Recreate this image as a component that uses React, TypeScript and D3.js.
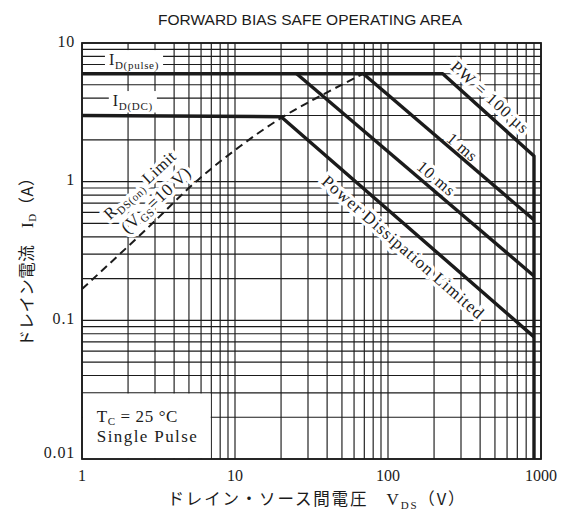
import React, { useEffect, useRef } from 'react';
import * as d3 from 'd3';

// axis ticks
const xTickValues = [1, 10, 100, 1000];
const xTickLabels = ['1', '10', '100', '1000'];
const yTickValues = [0.01, 0.1, 1, 10];
const yTickLabels = ['0.01', '0.1', '1', '10'];

// boundary curves, V_DS (V) vs I_D (A)
const pw100usV = [1, 228, 900, 900];
const pw100usI = [6, 6, 1.53, 0.01];
const pw1msV = [69, 900];
const pw1msI = [6, 0.53];
const pw10msV = [25.3, 900];
const pw10msI = [6, 0.209];
const dcV = [1, 20, 900];
const dcI = [3, 2.94, 0.076];
const rdsV = [1, 2.6, 5.9, 10.8, 20, 37.6, 69];
const rdsI = [0.168, 0.448, 1.06, 1.8, 2.88, 4.25, 6];

type Part = { t: string; sub?: boolean };

const SERIF = '"Liberation Serif", "DejaVu Serif", serif';
const JP = '"Noto Sans CJK JP", sans-serif';

function rich(text: any, parts: Part[], size: number, subSize: number, font = SERIF) {
  parts.forEach((p, i) => {
    const prevSub = i > 0 && parts[i - 1].sub;
    const ts = text.append('tspan').text(p.t)
      .attr('font-size', p.sub ? subSize : size)
      .attr('font-family', p.sub ? SERIF : font);
    const shift = (p.sub ? 3.5 : 0) - (prevSub ? 3.5 : 0);
    if (shift) ts.attr('dy', shift);
  });
}

export default function App() {
  const svgRef = useRef<SVGSVGElement>(null);

  useEffect(() => {
    if (!svgRef.current) return;
    const svg = d3.select(svgRef.current);
    svg.selectAll('*').remove();

    const x = d3.scaleLog().domain([1, 1000]).range([82, 541]);
    const y = d3.scaleLog().domain([0.01, 10]).range([459, 43]);
    const ink = '#1b1b1b';

    svg.append('rect').attr('width', 565).attr('height', 515).attr('fill', '#fff');

    // title
    svg.append('text')
      .attr('x', 310).attr('y', 25)
      .attr('text-anchor', 'middle')
      .attr('font-family', '"Liberation Sans", Arial, sans-serif')
      .attr('font-size', 15.5)
      .attr('textLength', 304)
      .attr('lengthAdjust', 'spacingAndGlyphs')
      .attr('fill', ink)
      .text('FORWARD BIAS SAFE OPERATING AREA');

    // grid
    const grid = svg.append('g').attr('stroke', ink);
    grid.selectAll('line.v').data(x.ticks()).join('line')
      .attr('x1', d => x(d)).attr('x2', d => x(d))
      .attr('y1', y(10)).attr('y2', y(0.01))
      .attr('stroke-width', 1.15);
    grid.selectAll('line.h').data(y.ticks()).join('line')
      .attr('x1', x(1)).attr('x2', x(1000))
      .attr('y1', d => y(d)).attr('y2', d => y(d))
      .attr('stroke-width', 1.15);

    // white box for conditions
    svg.append('rect')
      .attr('x', x(1) + 1).attr('y', y(0.03) + 0.7)
      .attr('width', x(7) - x(1) - 1.6).attr('height', y(0.01) - y(0.03) - 1.4)
      .attr('fill', '#fff');

    // label definitions
    const seg = (v1: number, i1: number, v2: number, i2: number) =>
      Math.atan2(y(i2) - y(i1), x(v2) - x(v1)) * 180 / Math.PI;

    const rotLabels: { parts: Part[]; v: number; i: number; a: number; size: number; len?: number }[] = [
      { parts: [{ t: 'PW = 100 µs' }], v: 464, i: 4.08, a: seg(pw100usV[1], pw100usI[1], pw100usV[2], pw100usI[2]), size: 16.5, len: 98 },
      { parts: [{ t: '1 ms' }], v: 305, i: 1.78, a: seg(pw1msV[0], pw1msI[0], pw1msV[1], pw1msI[1]), size: 16.5, len: 34 },
      { parts: [{ t: '10 ms' }], v: 206, i: 1.06, a: seg(pw10msV[0], pw10msI[0], pw10msV[1], pw10msI[1]), size: 16.5, len: 44 },
      { parts: [{ t: 'Power  Dissipation  Limited' }], v: 125, i: 0.338, a: seg(dcV[1], dcI[1], dcV[2], dcI[2]), size: 17, len: 208 },
      { parts: [{ t: 'R' }, { t: 'DS(on)', sub: true }, { t: ' Limit' }], v: 2.39, i: 0.946, a: -43, size: 16.5 },
      { parts: [{ t: '(V' }, { t: 'GS', sub: true }, { t: '=10 V)' }], v: 3.05, i: 0.738, a: -43, size: 17.5 },
    ];

    const drawLabels = (layer: any, halo: boolean) => {
      rotLabels.forEach(l => {
        const t = layer.append('text')
          .attr('transform', `translate(${x(l.v)},${y(l.i)}) rotate(${l.a})`)
          .attr('text-anchor', 'middle')
          .attr('dy', '0.35em')
          .attr('letter-spacing', l.len ? 0 : 0.6);
        if (l.len) t.attr('textLength', l.len).attr('lengthAdjust', 'spacing');
        rich(t, l.parts, l.size, 11);
        if (halo) t.attr('fill', '#fff').attr('stroke', '#fff').attr('stroke-width', 7).attr('stroke-linejoin', 'round');
        else t.attr('fill', ink);
      });
    };

    const haloLayer = svg.append('g');
    drawLabels(haloLayer, true);

    // I_D labels with masking boxes
    const idLabel = (parts: Part[], v: number, i: number, padX: number) => {
      const g = svg.append('g');
      const t = g.append('text').attr('x', x(v)).attr('y', y(i)).attr('fill', ink).attr('letter-spacing', 0.7);
      rich(t, parts, 16, 11);
      const bb = (t.node() as SVGTextElement).getBBox();
      g.insert('rect', 'text')
        .attr('x', bb.x - padX).attr('y', bb.y - 1)
        .attr('width', bb.width + padX * 2).attr('height', bb.height + 1)
        .attr('fill', '#fff');
    };
    idLabel([{ t: 'I' }, { t: 'D(pulse)', sub: true }], 1.5, 6.93, 4);
    idLabel([{ t: 'I' }, { t: 'D(DC)', sub: true }], 1.59, 3.51, 4);

    // SOA curves
    const line = d3.line<[number, number]>().x(d => x(d[0])).y(d => y(d[1]));
    const curves = [
      [pw100usV, pw100usI],
      [pw1msV, pw1msI],
      [pw10msV, pw10msI],
      [dcV, dcI],
    ];
    curves.forEach(([vs, is]) => {
      svg.append('path')
        .datum(vs.map((v, k) => [v, is[k]] as [number, number]))
        .attr('d', line)
        .attr('fill', 'none')
        .attr('stroke', ink)
        .attr('stroke-width', 3.4)
        .attr('stroke-linejoin', 'round');
    });

    const rdsLine = d3.line<[number, number]>().x(d => x(d[0])).y(d => y(d[1])).curve(d3.curveMonotoneX);
    svg.append('path')
      .datum(rdsV.map((v, k) => [v, rdsI[k]] as [number, number]))
      .attr('d', rdsLine)
      .attr('fill', 'none')
      .attr('stroke', ink)
      .attr('stroke-width', 2)
      .attr('stroke-dasharray', '8 5');

    // frame
    svg.append('rect')
      .attr('x', x(1)).attr('y', y(10))
      .attr('width', x(1000) - x(1)).attr('height', y(0.01) - y(10))
      .attr('fill', 'none').attr('stroke', ink).attr('stroke-width', 1.8);

    drawLabels(svg.append('g'), false);

    // conditions
    const tc = svg.append('text').attr('x', x(1.25)).attr('y', y(0.0185)).attr('fill', ink).attr('letter-spacing', 0.6);
    rich(tc, [{ t: 'T' }, { t: 'C', sub: true }, { t: ' = 25 °C' }], 17, 11);
    svg.append('text').attr('x', x(1.25)).attr('y', y(0.0133)).attr('fill', ink)
      .attr('font-family', SERIF).attr('font-size', 17)
      .attr('textLength', 100).attr('lengthAdjust', 'spacing')
      .text('Single Pulse');

    // tick labels
    svg.append('g').selectAll('text').data(xTickValues).join('text')
      .attr('x', d => x(d)).attr('y', 481)
      .attr('text-anchor', 'middle')
      .attr('font-family', SERIF).attr('font-size', 16).attr('fill', ink)
      .text((d, k) => xTickLabels[k]);
    svg.append('g').selectAll('text').data(yTickValues).join('text')
      .attr('x', 75).attr('y', d => y(d) + (d === 0.01 ? -7 : -2))
      .attr('dy', '0.35em')
      .attr('text-anchor', 'end')
      .attr('font-family', SERIF).attr('font-size', 16).attr('fill', ink)
      .attr('letter-spacing', 0.8)
      .text((d, k) => yTickLabels[k]);

    // axis titles
    const xt = svg.append('text').attr('x', 316).attr('y', 505).attr('text-anchor', 'middle').attr('fill', ink)
      .attr('textLength', 297).attr('lengthAdjust', 'spacing');
    rich(xt, [{ t: 'ドレイン・ソース間電圧　' }, { t: 'V' }, { t: 'DS', sub: true }, { t: '（V）' }], 16.5, 11, JP);
    xt.selectAll('tspan').filter((d, k) => k === 1).attr('font-family', SERIF).attr('font-size', 17);

    const yt = svg.append('text')
      .attr('transform', `translate(27,${258}) rotate(-90)`)
      .attr('text-anchor', 'middle').attr('dy', '0.35em').attr('fill', ink)
      .attr('textLength', 177).attr('lengthAdjust', 'spacing');
    rich(yt, [{ t: 'ドレイン電流　' }, { t: 'I' }, { t: 'D', sub: true }, { t: '（A）' }], 16.5, 11, JP);
    yt.selectAll('tspan').filter((d, k) => k === 1).attr('font-family', SERIF).attr('font-size', 17);
  }, []);

  return (
    <div style={{ position: 'absolute', left: 0, top: 0 }}>
      <svg ref={svgRef} width={565} height={515} style={{ display: 'block' }} />
    </div>
  );
}
